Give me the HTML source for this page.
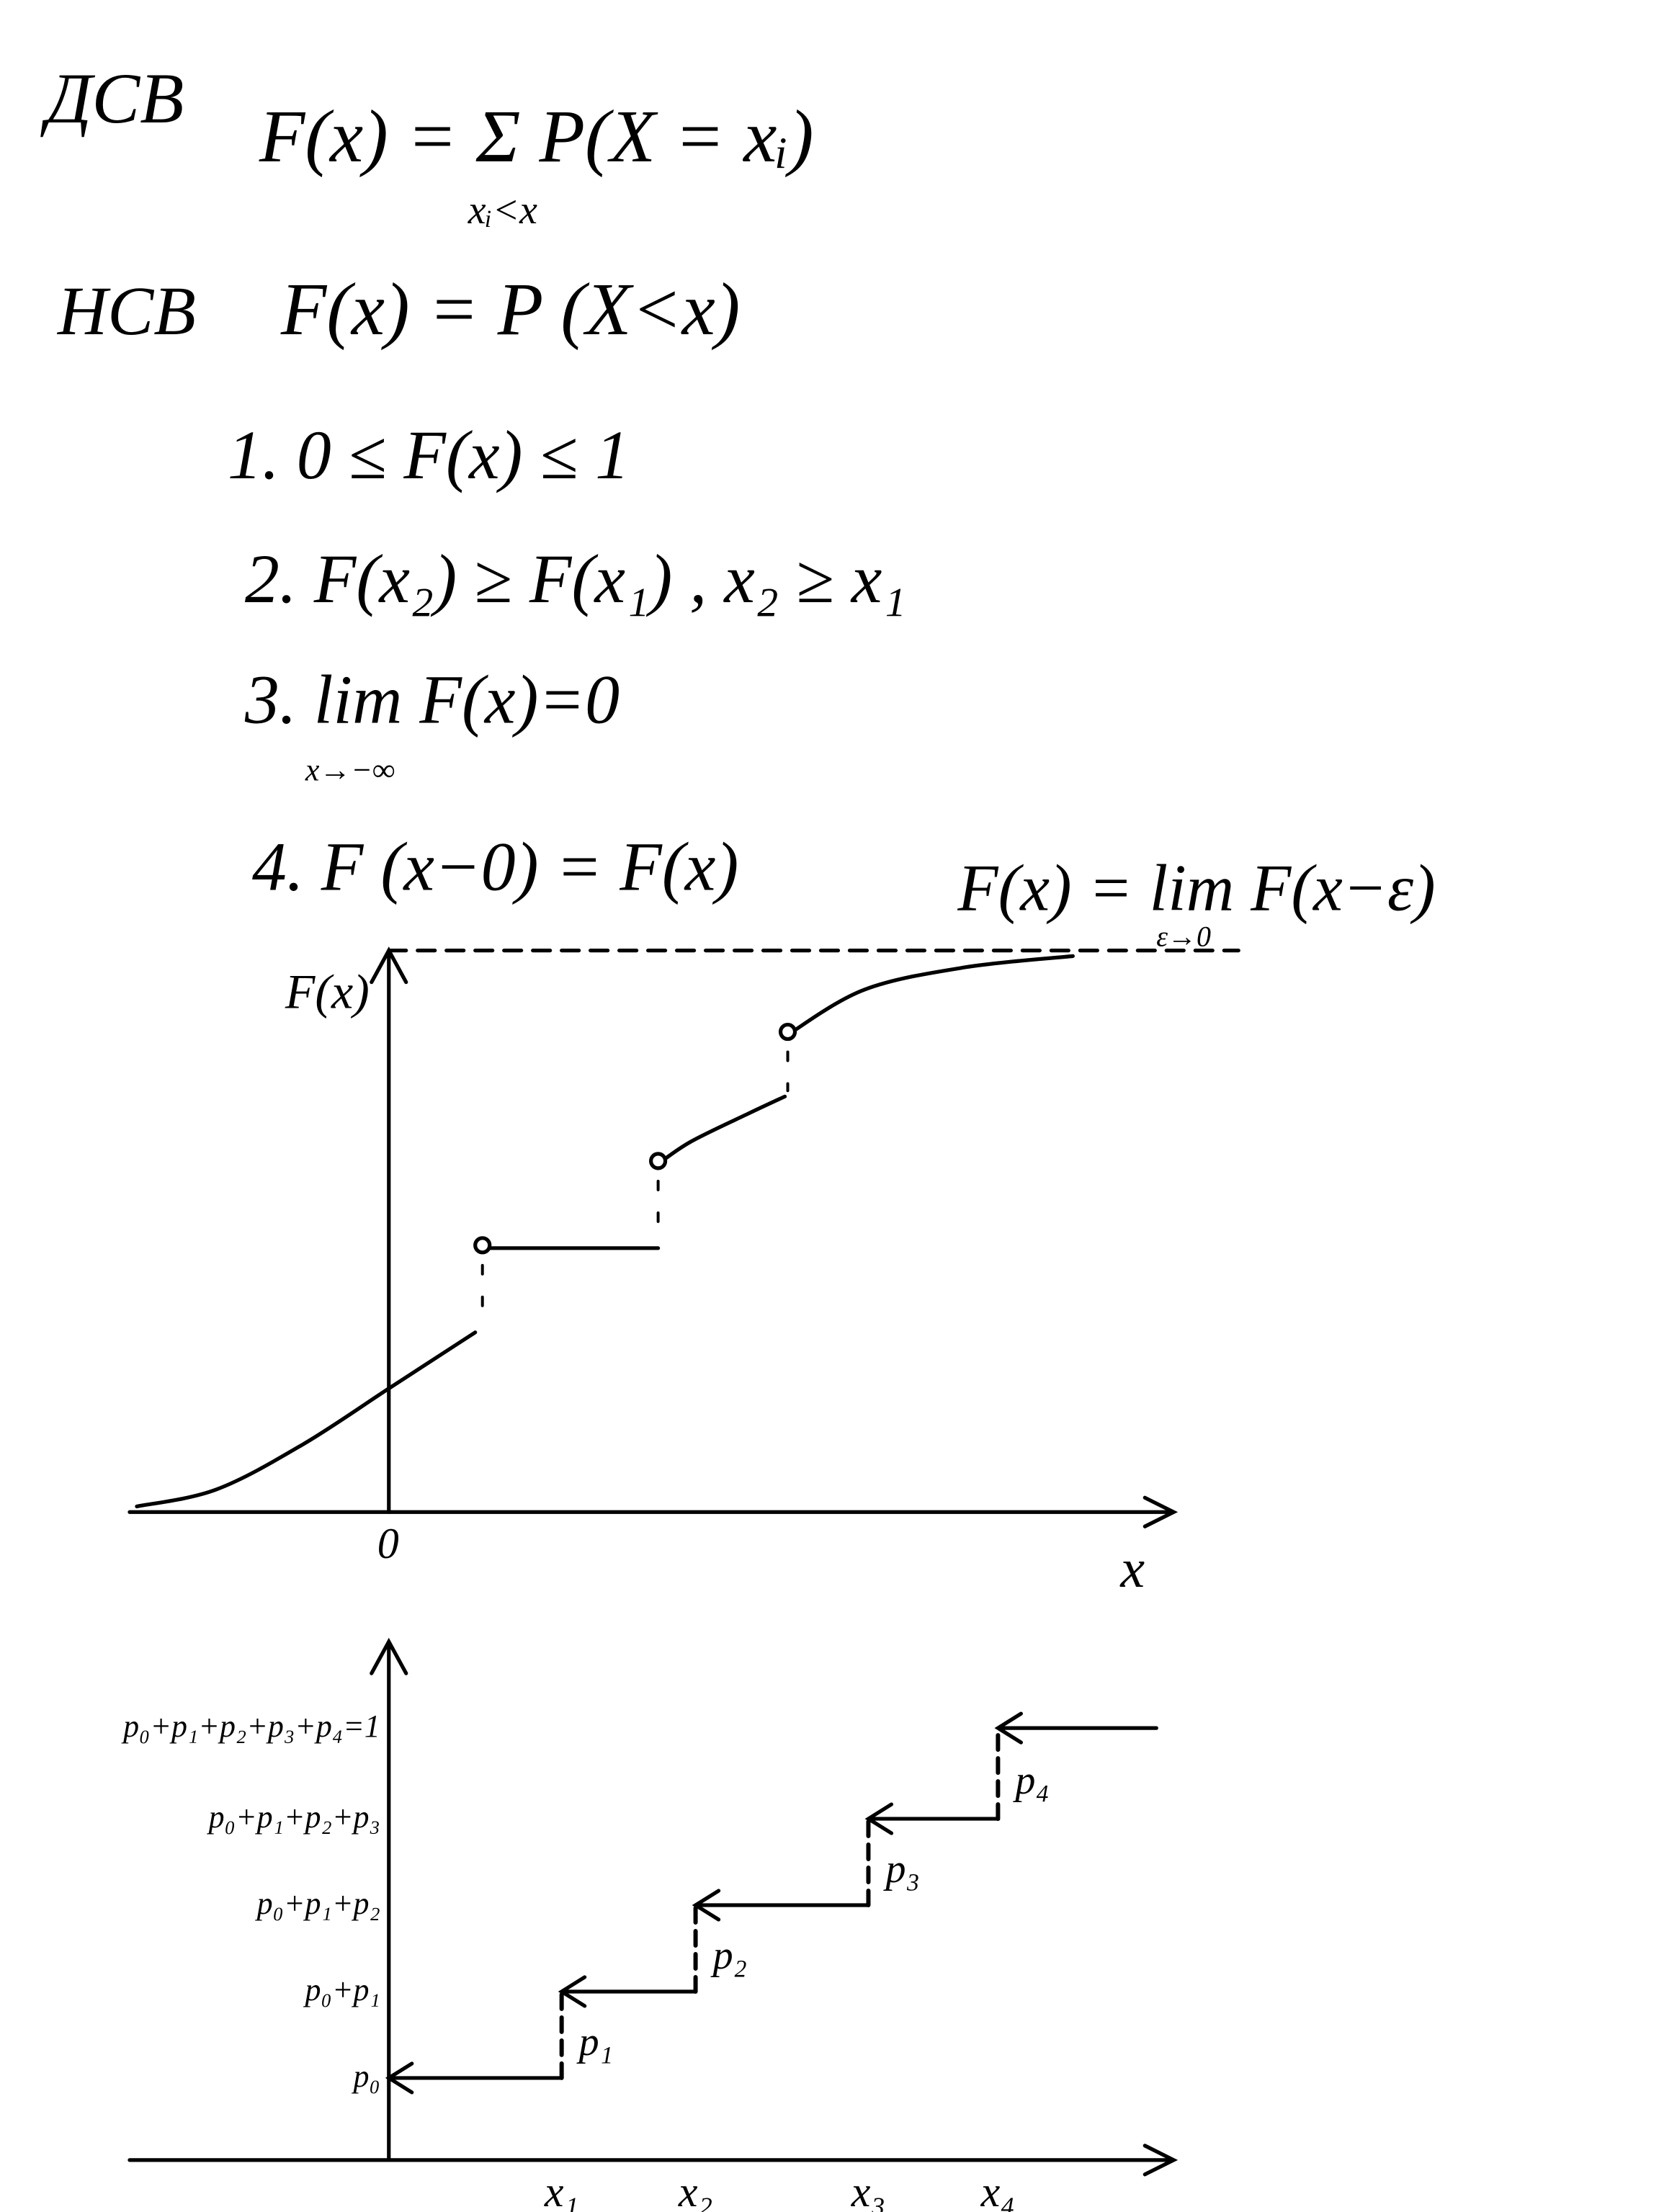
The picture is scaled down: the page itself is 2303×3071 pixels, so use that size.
<!DOCTYPE html>
<html><head><meta charset="utf-8"><style>
html,body{margin:0;padding:0;background:#fff;}
svg{display:block;}
text{font-family:"Liberation Serif",serif;font-style:italic;fill:#000;}
</style></head><body>
<svg id="page" width="2303" height="3071" viewBox="0 0 1152 1536" xmlns="http://www.w3.org/2000/svg">
<g stroke="none">
<text x="32" y="85" font-size="50">ДСВ</text>
<text x="180" y="112" font-size="52">F(x) = Σ P(X = xᵢ)</text>
<text x="325" y="155" font-size="28">xᵢ&lt;x</text>
<text x="40" y="232" font-size="48">НСВ</text>
<text x="195" y="232" font-size="52">F(x) = P (X&lt;x)</text>
<text x="158" y="332" font-size="48">1. 0 ≤ F(x) ≤ 1</text>
<text x="170" y="418" font-size="48">2. F(x₂) ≥ F(x₁) , x₂ ≥ x₁</text>
<text x="170" y="502" font-size="48">3. lim F(x)=0</text>
<text x="212" y="542" font-size="22">x→−∞</text>
<text x="175" y="618" font-size="48">4. F (x−0) = F(x)</text>
<text x="665" y="632" font-size="46">F(x) = lim F(x−ε)</text>
<text x="803" y="657" font-size="20">ε→0</text>
</g>
<g id="chart1" fill="none" stroke="#000" stroke-width="2.6" stroke-linecap="round"></g>
<g id="chart2" fill="none" stroke="#000" stroke-width="2.6" stroke-linecap="round"></g>
</svg>
<script>
// ---- chart 1 data (x in units, F in [0,1]) ----
const seg1X=[-1.75,-1.2,-0.6,0,0.6];
const seg1F=[0.01,0.04,0.12,0.22,0.32];
const flatF=[0.47];
const flatX=[0.65,1.87];
const seg3X=[1.87,2.1,2.5,2.75];
const seg3F=[0.62,0.66,0.71,0.74];
const seg4X=[2.77,3.3,4.0,4.75];
const seg4F=[0.85,0.93,0.97,0.99];
const jumpX=[0.65,1.87,2.77];
const jumpOpen=[0.47,0.62,0.85];
const jumpLow=[0.32,0.47,0.74];
// ---- chart 2 data ----
const xCats=["x₁","x₂","x₃","x₄"];
const xVals=[1.2,2.13,3.33,4.23];
const cum=[0.19,0.39,0.59,0.79,1.0];
const cumLabels=["p₀","p₀+p₁","p₀+p₁+p₂","p₀+p₁+p₂+p₃","p₀+p₁+p₂+p₃+p₄=1"];
const pLabels=["p₁","p₂","p₃","p₄"];

const NS="http://www.w3.org/2000/svg";
function mk(parent,tag,attrs){const e=document.createElementNS(NS,tag);for(const k in attrs)e.setAttribute(k,attrs[k]);parent.appendChild(e);return e;}
const c1=document.getElementById('chart1');
const x1=v=>270+v*100, y1=v=>1050-v*390;
let e;
e=mk(c1,'path',{d:`M90 1050 H815 M795 1040 L815 1050 L795 1060`});

e=mk(c1,'path',{d:`M270 1050 V660 M258 682 L270 660 L282 682`});

e=mk(c1,'line',{x1:270,y1:y1(1),x2:860,y2:y1(1),'stroke-dasharray':'12 8'});

function curve(xs,fs,name){
 const p=xs.map((x,i)=>[x1(x),y1(fs[i])]);
 let d='M'+p[0].join(' ');
 for(let i=0;i<p.length-1;i++){
  const a=p[i-1]||p[i],b=p[i],c=p[i+1],dd=p[i+2]||c;
  const c1x=b[0]+(c[0]-a[0])/6,c1y=b[1]+(c[1]-a[1])/6,c2x=c[0]-(dd[0]-b[0])/6,c2y=c[1]-(dd[1]-b[1])/6;
  d+=` C${c1x} ${c1y} ${c2x} ${c2y} ${c[0]} ${c[1]}`;
 }
 const el=mk(c1,'path',{d});}
curve(seg1X,seg1F,'cdf-segment-1');
e=mk(c1,'line',{x1:x1(flatX[0]),y1:y1(flatF[0]),x2:x1(flatX[1]),y2:y1(flatF[0])});

curve(seg3X,seg3F,'cdf-segment-3');
curve(seg4X,seg4F,'cdf-segment-4');
jumpX.forEach((jx,i)=>{
 let c=mk(c1,'circle',{cx:x1(jx),cy:y1(jumpOpen[i])-2,r:5,fill:'#fff'});
 
 let l=mk(c1,'line',{x1:x1(jx),y1:y1(jumpOpen[i])+12,x2:x1(jx),y2:y1(jumpLow[i])-4,'stroke-dasharray':'6 16','stroke-width':2});
 
});
e=mk(c1,'text',{x:198,y:700,'font-size':34,stroke:'none',fill:'#000'});e.textContent='F(x)';

e=mk(c1,'text',{x:262,y:1082,'font-size':30,stroke:'none',fill:'#000'});e.textContent='0';

e=mk(c1,'text',{x:778,y:1102,'font-size':38,stroke:'none',fill:'#000'});e.textContent='x';


const c2=document.getElementById('chart2');
const x2=v=>270+v*100, y2=v=>1500-v*300;
e=mk(c2,'path',{d:`M90 1500 H815 M795 1490 L815 1500 L795 1510`});

e=mk(c2,'path',{d:`M270 1500 V1140 M258 1162 L270 1140 L282 1162`});

const xs=[0].concat(xVals);
cum.forEach((v,i)=>{
 const xa=x2(xs[i]), xb=i+1<xs.length?x2(xs[i+1]):x2(xs[i])+110, y=y2(v);
 let a=mk(c2,'path',{d:`M${xb} ${y} H${xa} M${xa+16} ${y-10} L${xa} ${y} L${xa+16} ${y+10}`});
 
 let t=mk(c2,'text',{x:264,y:y+6,'font-size':22,'text-anchor':'end',stroke:'none',fill:'#000'});t.textContent=cumLabels[i];
 
 if(i+1<cum.length){
  const xj=x2(xs[i+1]);
  let d=mk(c2,'line',{x1:xj,y1:y,x2:xj,y2:y2(cum[i+1]),'stroke-dasharray':'10 6','stroke-width':3});
  
  let p=mk(c2,'text',{x:xj+12,y:(y+y2(cum[i+1]))/2+14,'font-size':28,stroke:'none',fill:'#000'});p.textContent=pLabels[i];
  
 }
});
xVals.forEach((v,i)=>{
 let t=mk(c2,'text',{x:x2(v),y:1532,'font-size':30,'text-anchor':'middle',stroke:'none',fill:'#000'});t.textContent=xCats[i];
 
});
</script>
</body></html>
